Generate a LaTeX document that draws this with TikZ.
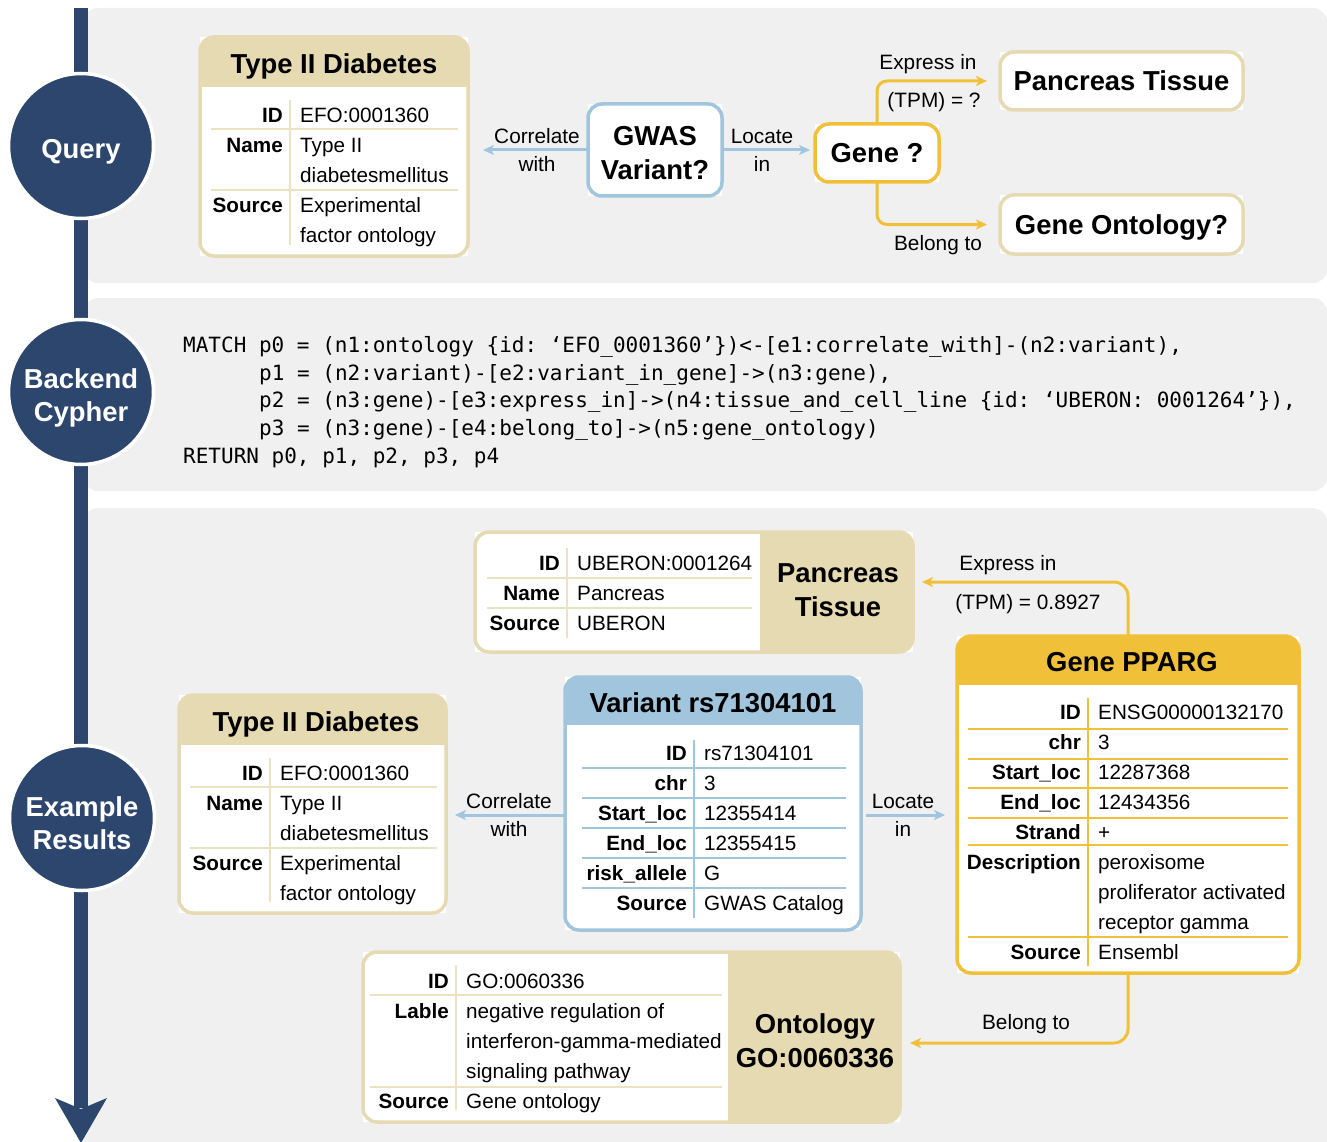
\documentclass[tikz,border=0pt]{standalone}
\usepackage{fontspec}
\setmainfont{Liberation Sans}
\setmonofont{DejaVu Sans Mono}
\usetikzlibrary{arrows.meta,calc}

\definecolor{navy}{RGB}{44,70,110}
\definecolor{panelc}{RGB}{240,240,240}
\definecolor{tanc}{RGB}{230,218,178}
\definecolor{tanl}{RGB}{236,226,194}
\definecolor{bluec}{RGB}{160,197,220}
\definecolor{yelc}{RGB}{240,192,56}

\newcommand{\decobox}[3]{%
  \begin{scope}
    \clip[rounded corners=14pt] (#1.north west) rectangle (#1.south east);
    \fill[#2] #3;
  \end{scope}
  \draw[#2, line width=3.5pt, rounded corners=14pt] (#1.north west) rectangle (#1.south east);}
\newcommand{\kv}[5]{%
  \node[lab] (#1l) at (#2-7,#3+7.3) {#4};
  \node[val] (#1v) at (#2+10,#3+7.3) {#5};}
\newcommand{\kc}[4]{\node[val] (#1) at (#2+10,#3+7.3) {#4};}

\tikzset{
  lab/.style={inner sep=0, anchor=base east, font=\bfseries\fontsize{20.7}{24}\selectfont},
  val/.style={inner sep=0, anchor=base west, font=\fontsize{20.7}{24}\selectfont},
  ttl/.style={inner sep=0, align=center, text depth=0pt, font=\bfseries\fontsize{27.4}{33.5}\selectfont},
  elab/.style={inner sep=0, text depth=0pt, font=\fontsize{20.8}{24}\selectfont},
  code/.style={inner sep=0, anchor=base west, font=\ttfamily\fontsize{21}{26}\selectfont},
  circ/.style={circle, fill=navy, draw=white, line width=3.5pt, minimum size=145pt, inner sep=0},
  ctext/.style={text=white, align=center, inner sep=0, text depth=0pt, font=\bfseries\fontsize{27.4}{33.5}\selectfont},
  box/.style={rectangle, outer sep=0, inner sep=0, fill=white},
  arr/.style={line width=3pt, -{Stealth[length=11pt,width=10pt,inset=3pt]}},
  tline/.style={line width=1.5pt},
}

\begin{document}
\begin{tikzpicture}[x=1pt,y=-1pt]
\useasboundingbox (0,0) rectangle (1327,1142);

% panels
\fill[panelc, rounded corners=14pt] (84,8) rectangle (1327,283);
\fill[panelc, rounded corners=14pt] (84,298) rectangle (1327,491);
\fill[panelc, rounded corners=14pt] (84,508) rectangle (1327,1170);

% timeline bar
\fill[navy] (74,8) rectangle (88,1108);
\fill[navy] (81,1143) -- (55,1098) -- (81,1109) -- (107,1098) -- cycle;

\node[circ] (cq) at (81,146) {};
\node[ctext] (cqt) at ($(cq.center)+(0,3)$) {Query};
\node[circ] (cb) at (81,392) {};
\node[ctext] (cbt) at ($(cb.center)+(0,3)$) {Backend\\Cypher};
\node[circ] (ce) at (82,818) {};
\node[ctext] (cet) at ($(ce.center)+(0,5)$) {Example\\Results};

% ================= QUERY =================
\node[box, minimum width=268pt, minimum height=219pt] (qt2d) at (334,146.5) {};
\decobox{qt2d}{tanc}{(qt2d.north west) rectangle (468,87)}
\node[ttl] (qt2dt) at (334,63.5) {Type II Diabetes};
\draw[tanl, tline] (290,100) -- (290,245);
\draw[tanl, tline] (211,129) -- (458,129);
\draw[tanl, tline] (211,190) -- (458,190);
\kv{qa}{290}{115}{ID}{EFO:0001360}
\kv{qb}{290}{145}{Name}{Type II}
\kc{qb2}{290}{175}{diabetesmellitus}
\kv{qc}{290}{205}{Source}{Experimental}
\kc{qc2}{290}{235}{factor ontology}

\node[box, minimum width=134pt, minimum height=92pt] (gwas) at (655,150) {};
\decobox{gwas}{bluec}{(0,0) rectangle (0,0)}
\node[ttl] (gwast) at (655,153) {GWAS\\Variant?};

\node[box, minimum width=124pt, minimum height=58pt] (qgene) at (877,153) {};
\decobox{qgene}{yelc}{(0,0) rectangle (0,0)}
\node[ttl] (qgenet) at (877,153) {Gene ?};

\node[box, minimum width=243pt, minimum height=58pt] (qpt) at (1121.5,81) {};
\decobox{qpt}{tanc}{(0,0) rectangle (0,0)}
\node[ttl] (qptt) at (1121.5,81) {Pancreas Tissue};

\node[box, minimum width=243pt, minimum height=59pt] (qgo) at (1121.5,224.5) {};
\decobox{qgo}{tanc}{(0,0) rectangle (0,0)}
\node[ttl] (qgot) at (1121.5,224.5) {Gene Ontology?};

\draw[arr, bluec, shorten >=15pt] (gwas.west) -- (qt2d.east |- gwas.west);
\node[elab] (l1a) at (537,136) {Correlate};
\node[elab] (l1b) at (537,164) {with};
\draw[arr, bluec, shorten >=5pt] (gwas.east) -- (qgene.west |- gwas.east);
\node[elab] (l2a) at (762,136) {Locate};
\node[elab] (l2b) at (762,164) {in};
\draw[arr, yelc, rounded corners=10pt, shorten >=13pt] (qgene.north) |- (qpt.west);
\node[elab] (l3a) at (928,62) {Express in};
\node[elab] (l3b) at (934,100) {(TPM) = ?};
\draw[arr, yelc, rounded corners=10pt, shorten >=13pt] (qgene.south) |- (qgo.west);
\node[elab] (l4a) at (938,243) {Belong to};

% ================= CYPHER =================
\node[code] (c1) at (183,352) {MATCH p0 = (n1:ontology \{id: ‘EFO\_0001360’\})<-[e1:correlate\_with]-(n2:variant),};
\node[code] (c2) at (259,380) {p1 = (n2:variant)-[e2:variant\_in\_gene]->(n3:gene),};
\node[code] (c3) at (259,407) {p2 = (n3:gene)-[e3:express\_in]->(n4:tissue\_and\_cell\_line \{id: ‘UBERON: 0001264’\}),};
\node[code] (c4) at (259,435) {p3 = (n3:gene)-[e4:belong\_to]->(n5:gene\_ontology)};
\node[code] (c5) at (183,463) {RETURN p0, p1, p2, p3, p4};

% ================= EXAMPLE =================
% Pancreas tissue
\node[box, minimum width=438pt, minimum height=120pt] (ept) at (694,592) {};
\decobox{ept}{tanc}{(760,520) rectangle (930,670)}
\node[ttl] (eptt) at (838,590) {Pancreas\\Tissue};
\draw[tanl, tline] (567,548) -- (567,638);
\draw[tanl, tline] (487,578) -- (752,578);
\draw[tanl, tline] (487,608) -- (752,608);
\kv{pa}{567}{563}{ID}{UBERON:0001264}
\kv{pb}{567}{593}{Name}{Pancreas}
\kv{pc}{567}{623}{Source}{UBERON}

% Gene PPARG
\node[box, minimum width=342pt, minimum height=337pt] (egene) at (1128,804.5) {};
\decobox{egene}{yelc}{(egene.north west) rectangle (1299,685)}
\node[ttl] (egenet) at (1132,662) {Gene PPARG};
\draw[yelc, tline] (1088,698) -- (1088,966);
\foreach \yy in {729,759,788,818,845,937} \draw[yelc, tline] (968,\yy) -- (1288,\yy);
\kv{ga}{1088}{712}{ID}{ENSG00000132170}
\kv{gb}{1088}{742}{chr}{3}
\kv{gc}{1088}{772}{Start\_loc}{12287368}
\kv{gd}{1088}{802}{End\_loc}{12434356}
\kv{ge}{1088}{832}{Strand}{+}
\kv{gf}{1088}{862}{Description}{peroxisome}
\kc{gf2}{1088}{892}{proliferator activated}
\kc{gf3}{1088}{922}{receptor gamma}
\kv{gg}{1088}{952}{Source}{Ensembl}

% Variant
\node[box, minimum width=296pt, minimum height=253pt] (ev) at (713,803.5) {};
\decobox{ev}{bluec}{(ev.north west) rectangle (861,725)}
\node[ttl] (evt) at (713,703) {Variant rs71304101};
\draw[bluec, tline] (694,740) -- (694,918);
\foreach \yy in {768,798,828,858,888} \draw[bluec, tline] (582,\yy) -- (846,\yy);
\kv{va}{694}{753}{ID}{rs71304101}
\kv{vb}{694}{783}{chr}{3}
\kv{vc}{694}{813}{Start\_loc}{12355414}
\kv{vd}{694}{843}{End\_loc}{12355415}
\kv{ve}{694}{873}{risk\_allele}{G}
\kv{vf}{694}{903}{Source}{GWAS Catalog}

% Type II diabetes (example)
\node[box, minimum width=267pt, minimum height=218pt] (et2d) at (312.5,804) {};
\decobox{et2d}{tanc}{(et2d.north west) rectangle (446,745)}
\node[ttl] (et2dt) at (316,722) {Type II Diabetes};
\draw[tanl, tline] (270,758) -- (270,902);
\draw[tanl, tline] (190,787) -- (437,787);
\draw[tanl, tline] (190,848) -- (437,848);
\kv{ta}{270}{773}{ID}{EFO:0001360}
\kv{tb}{270}{803}{Name}{Type II}
\kc{tb2}{270}{833}{diabetesmellitus}
\kv{tc}{270}{863}{Source}{Experimental}
\kc{tc2}{270}{893}{factor ontology}

% Ontology
\node[box, minimum width=537pt, minimum height=170pt] (eo) at (631.5,1037) {};
\decobox{eo}{tanc}{(728,940) rectangle (910,1130)}
\node[ttl] (eot) at (815,1040.5) {Ontology\\GO:0060336};
\draw[tanl, tline] (456,965) -- (456,1110);
\draw[tanl, tline] (370,995) -- (722,995);
\draw[tanl, tline] (370,1087) -- (722,1087);
\kv{oa}{456}{981}{ID}{GO:0060336}
\kv{ob}{456}{1011}{Lable}{negative regulation of}
\kc{ob2}{456}{1041}{interferon-gamma-mediated}
\kc{ob3}{456}{1071}{signaling pathway}
\kv{oc}{456}{1101}{Source}{Gene ontology}

% example connectors
\coordinate (evw) at ($(ev.west)+(0,11.5)$);
\coordinate (eve) at ($(ev.east)+(5,11.5)$);
\draw[arr, bluec, shorten >=9pt] (evw) -- (et2d.east |- evw);
\node[elab] (m1a) at (509,801) {Correlate};
\node[elab] (m1b) at (509,829) {with};
\draw[arr, bluec, shorten >=12pt] (eve) -- (egene.west |- eve);
\node[elab] (m2a) at (903,801) {Locate};
\node[elab] (m2b) at (903,829) {in};
\coordinate (eptin) at ($(ept.east)+(9,-10)$);
\draw[arr, yelc, rounded corners=14pt] (egene.north) |- (eptin);
\node[elab] (m3a) at (1008,563) {Express in};
\node[elab] (m3b) at (1028,602) {(TPM) = 0.8927};
\coordinate (eoin) at ($(eo.east)+(10,6)$);
\draw[arr, yelc, rounded corners=14pt] (egene.south) |- (eoin);
\node[elab] (m4a) at (1026,1022) {Belong to};
\end{tikzpicture}
\end{document}
